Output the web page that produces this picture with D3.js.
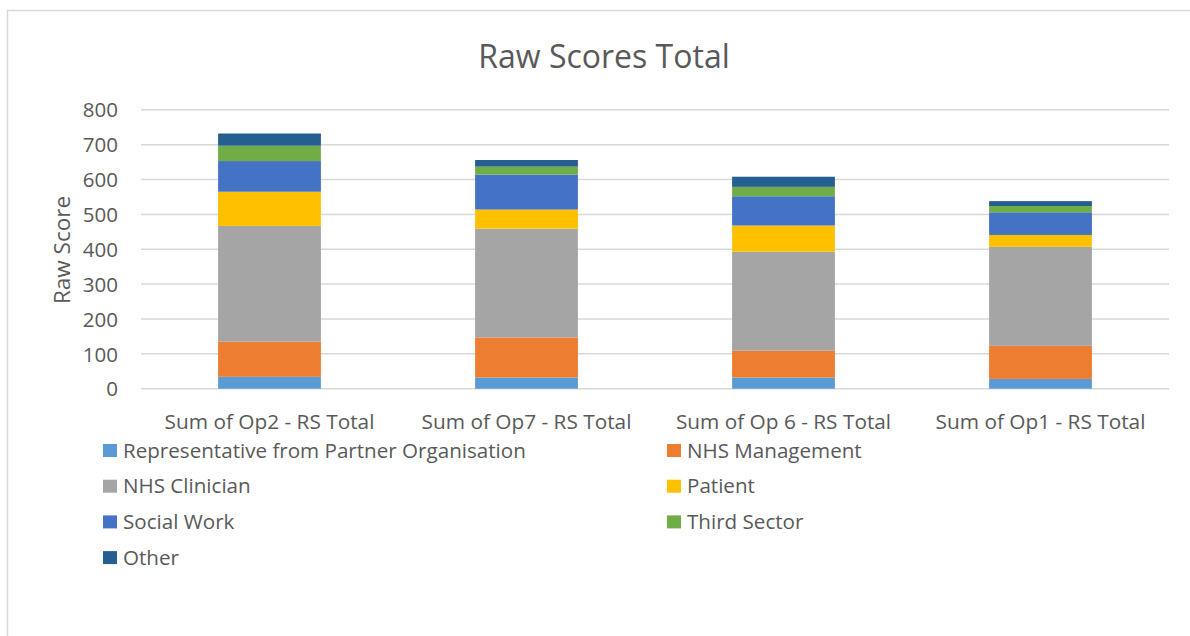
<!DOCTYPE html>
<html>
<head>
<meta charset="utf-8">
<script src="https://cdn.jsdelivr.net/npm/d3@7"></script>
<style>
  body { margin: 0; background: #fff; }
  text { font-family: "Open Sans", sans-serif; fill: #595959; }
</style>
</head>
<body>
<div id="chart"></div>
<script>
// categories along the x axis
const categories = ["Sum of Op2 - RS Total", "Sum of Op7 - RS Total", "Sum of Op 6 - RS Total", "Sum of Op1 - RS Total"];

// series names, bottom to top of each stack
const seriesNames = ["Representative from Partner Organisation", "NHS Management", "NHS Clinician",
    "Patient", "Social Work", "Third Sector", "Other"];

// values per series, one per category
const repPartner = [34, 32, 32, 28];
const nhsManagement = [101, 115, 77, 95];
const nhsClinician = [332, 312, 284, 284];
const patient = [98, 55, 75, 34];
const socialWork = [88, 100, 84, 65];
const thirdSector = [44, 23, 27, 18];
const other = [35, 19, 29, 14];

const yTicks = [0, 100, 200, 300, 400, 500, 600, 700, 800];

const colors = ["#5B9BD5", "#ED7D31", "#A5A5A5", "#FFC000", "#4472C4", "#70AD47", "#255E91"];

const seriesValues = [repPartner, nhsManagement, nhsClinician, patient, socialWork, thirdSector, other];

let rows = categories.map(function (c, i) {
    let r = {category: c};
    seriesNames.forEach(function (s, j) { r[s] = seriesValues[j][i]; });
    return r;
});

const width = 1190, height = 636;

let svg = d3.select("#chart")
    .append("svg")
    .attr("width", width)
    .attr("height", height);

// outer chart frame
svg.append("rect")
    .attr("x", 7.5).attr("y", 10.5)
    .attr("width", 1200).attr("height", 700)
    .attr("fill", "none")
    .attr("stroke", "#D9D9D9")
    .attr("stroke-width", 1.5);

let x = d3.scaleBand()
    .domain(categories)
    .range([141, 1169])
    .paddingInner(0.6)
    .paddingOuter(0.3);

let y = d3.scaleLinear()
    .domain([0, 800])
    .range([388.7, 109.8]);

// gridlines
svg.append("g")
    .selectAll("line")
    .data(yTicks)
    .enter().append("line")
    .attr("x1", 141).attr("x2", 1169)
    .attr("y1", d => y(d)).attr("y2", d => y(d))
    .attr("stroke", "#D9D9D9")
    .attr("stroke-width", 1.5);

// y axis labels
let yAxis = svg.append("g")
    .attr("transform", "translate(118,0)")
    .call(d3.axisLeft(y).tickValues(yTicks).tickSize(0).tickPadding(0));
yAxis.select(".domain").remove();
yAxis.selectAll("text")
    .style("font-size", "20.5px")
    .attr("dy", "0.35em")
    .attr("fill", "#595959");

// stacked bars
let stacked = d3.stack().keys(seriesNames)(rows);

svg.append("g")
    .selectAll("g")
    .data(stacked)
    .enter().append("g")
    .attr("fill", (d, i) => colors[i])
    .selectAll("rect")
    .data(d => d)
    .enter().append("rect")
    .attr("x", d => x(d.data.category))
    .attr("width", x.bandwidth())
    .attr("y", d => y(d[1]))
    .attr("height", d => y(d[0]) - y(d[1]));

// x axis labels
let xAxis = svg.append("g")
    .attr("transform", "translate(0,429)")
    .call(d3.axisBottom(x).tickSize(0).tickPadding(0));
xAxis.select(".domain").remove();
xAxis.selectAll("text")
    .style("font-size", "20.8px")
    .attr("dy", 0)
    .attr("fill", "#595959");

// title
svg.append("text")
    .attr("x", 604)
    .attr("y", 68)
    .attr("text-anchor", "middle")
    .style("font-size", "32px")
    .text("Raw Scores Total");

// y axis title
svg.append("text")
    .attr("transform", "translate(70,250) rotate(-90)")
    .attr("text-anchor", "middle")
    .style("font-size", "22.5px")
    .text("Raw Score");

// legend, two columns, row-major
let legend = svg.append("g")
    .selectAll("g")
    .data(seriesNames)
    .enter().append("g")
    .attr("transform", function (d, i) {
        return "translate(" + (i % 2 === 0 ? 103 : 667) + "," + (444 + Math.floor(i / 2) * 35.7) + ")";
    });

legend.append("rect")
    .attr("width", 14).attr("height", 13)
    .attr("fill", (d, i) => colors[i]);

legend.append("text")
    .attr("x", 20)
    .attr("y", 13.5)
    .style("font-size", "20.6px")
    .text(d => d);
</script>
</body>
</html>
